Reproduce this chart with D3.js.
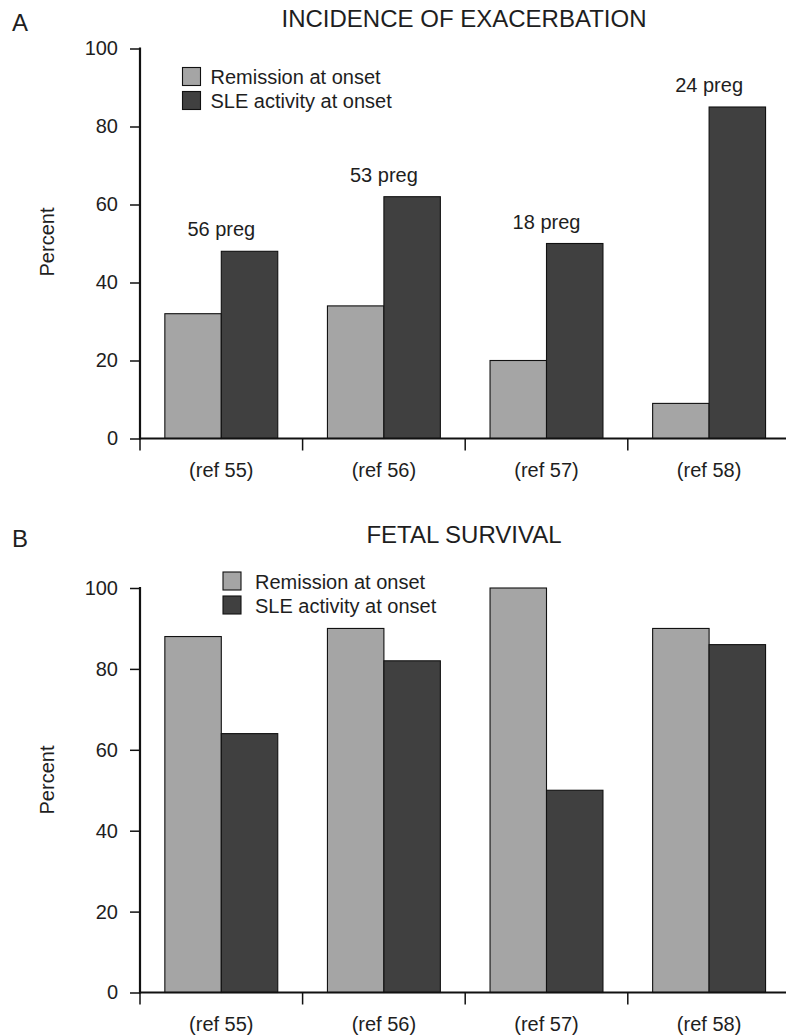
<!DOCTYPE html>
<html>
<head>
<meta charset="utf-8">
<script src="https://cdn.jsdelivr.net/npm/d3@7"></script>
<style>
  html, body { margin: 0; padding: 0; background: #fff; }
  svg { display: block; }
  text { font-family: "Liberation Sans", Arial, Helvetica, sans-serif; fill: #1e1e1e; }
</style>
</head>
<body>
<svg id="chart" width="786" height="1035"></svg>
<script>
// Study references along the x axis
const categories = ["(ref 55)", "(ref 56)", "(ref 57)", "(ref 58)"];
const seriesNames = ["Remission at onset", "SLE activity at onset"];

// Panel A: incidence of exacerbation (%)
const exacerbationRemission = [32, 34, 20, 9];
const exacerbationActive = [48, 62, 50, 85];
const pregnancyLabels = ["56 preg", "53 preg", "18 preg", "24 preg"];

// Panel B: fetal survival (%)
const survivalRemission = [88, 90, 100, 90];
const survivalActive = [64, 82, 50, 86];

const yTicks = [0, 20, 40, 60, 80, 100];

const seriesColors = ["#a5a5a5", "#404040"];

const svg = d3.select("#chart");

function drawPanel(cfg) {
  const g = svg.append("g");
  const x = d3.scaleBand().domain(categories).range([140, 790.4]).paddingInner(0).paddingOuter(0);
  const xs = d3.scaleBand().domain(seriesNames).range([0, x.bandwidth()]).paddingInner(0).paddingOuter(0.44);
  const y = d3.scaleLinear().domain([0, 100]).range([cfg.bottom, cfg.top]);

  // panel letter and title
  g.append("text").attr("x", 12).attr("y", cfg.letterY).attr("font-size", 24).text(cfg.letter);
  g.append("text").attr("x", 464).attr("y", cfg.titleY).attr("font-size", 24)
    .attr("text-anchor", "middle").text(cfg.title);

  // bars
  const rows = categories.map((c, i) => ({ c, vals: [cfg.a[i], cfg.b[i]] }));
  const grp = g.selectAll("g.cat").data(rows).join("g")
    .attr("transform", d => `translate(${x(d.c)},0)`);
  grp.selectAll("rect").data(d => d.vals.map((v, k) => ({ v, k })))
    .join("rect")
    .attr("x", d => xs(seriesNames[d.k]))
    .attr("width", xs.bandwidth())
    .attr("y", d => y(d.v))
    .attr("height", d => y(0) - y(d.v))
    .attr("fill", d => seriesColors[d.k])
    .attr("stroke", "#111")
    .attr("stroke-width", 1.1);

  // count labels above groups
  if (cfg.labels) {
    g.selectAll("text.cnt").data(rows).join("text")
      .attr("class", "cnt")
      .attr("x", d => x(d.c) + x.bandwidth() / 2)
      .attr("y", (d, i) => y(Math.max(...d.vals)) - 15)
      .attr("text-anchor", "middle")
      .attr("font-size", 20)
      .text((d, i) => cfg.labels[i]);
  }

  // y axis
  const yAxis = d3.axisLeft(y).tickValues(yTicks).tickSize(10).tickSizeOuter(0).tickPadding(12);
  const ya = g.append("g").attr("transform", "translate(140,0)").call(yAxis);
  ya.select(".domain").attr("stroke", "#111").attr("stroke-width", 2.2)
    .attr("d", `M0,${cfg.top - 1}V${cfg.bottom + 1}`);
  ya.selectAll(".tick line").attr("stroke", "#111").attr("stroke-width", 1.5);
  ya.selectAll(".tick text").attr("font-size", 20).attr("fill", "#1e1e1e")
    .attr("font-family", "Liberation Sans, Arial, sans-serif");

  // y axis title
  g.append("text")
    .attr("transform", `translate(54,${cfg.ylabelY}) rotate(-90)`)
    .attr("text-anchor", "middle").attr("font-size", 20).text("Percent");

  // x axis line and category boundary ticks
  g.append("line").attr("x1", 139).attr("x2", 790.4)
    .attr("y1", y(0)).attr("y2", y(0))
    .attr("stroke", "#111").attr("stroke-width", 2.2);
  g.selectAll("line.xt").data(categories).join("line")
    .attr("class", "xt")
    .attr("x1", d => x(d)).attr("x2", d => x(d))
    .attr("y1", y(0)).attr("y2", y(0) + 12)
    .attr("stroke", "#111").attr("stroke-width", 1.5);
  g.selectAll("text.xl").data(categories).join("text")
    .attr("class", "xl")
    .attr("x", d => x(d) + x.bandwidth() / 2)
    .attr("y", y(0) + 38)
    .attr("text-anchor", "middle").attr("font-size", 20)
    .text(d => d);

  // legend
  const lg = g.append("g").attr("transform", `translate(${cfg.legendX},${cfg.legendY})`);
  seriesNames.forEach((name, k) => {
    lg.append("rect").attr("x", 0).attr("y", k * 24).attr("width", 18).attr("height", 18)
      .attr("fill", seriesColors[k]).attr("stroke", "#111").attr("stroke-width", 1.1);
    lg.append("text").attr("x", cfg.legendGap).attr("y", k * 24 + 16.5)
      .attr("font-size", 20).text(name);
  });
}

drawPanel({
  letter: "A", letterY: 31, title: "INCIDENCE OF EXACERBATION", titleY: 27,
  top: 48.5, bottom: 438.5, ylabelY: 242,
  a: exacerbationRemission, b: exacerbationActive, labels: pregnancyLabels,
  legendX: 182.5, legendY: 67.5, legendGap: 28
});

drawPanel({
  letter: "B", letterY: 547, title: "FETAL SURVIVAL", titleY: 543,
  top: 588, bottom: 992.5, ylabelY: 780,
  a: survivalRemission, b: survivalActive, labels: null,
  legendX: 223, legendY: 572, legendGap: 32
});
</script>
</body>
</html>
